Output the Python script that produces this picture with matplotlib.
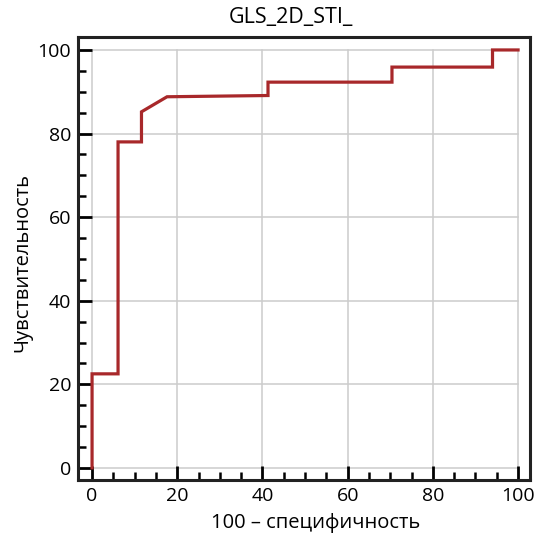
import matplotlib.pyplot as plt
import numpy as np
from matplotlib.ticker import MultipleLocator

# ROC curve points (100 - specificity, sensitivity)
fpr = [0, 0, 6.1, 6.1, 11.6, 11.6, 17.6, 41.3, 41.3, 70.4, 70.4, 94.0, 94.0, 100]
tpr = [0, 22.5, 22.5, 78.0, 78.0, 85.2, 88.8, 89.1, 92.3, 92.3, 95.9, 95.9, 100, 100]
ticks = [0, 20, 40, 60, 80, 100]

plt.rcParams['font.family'] = ['Open Sans', 'DejaVu Sans']

fig = plt.figure(figsize=(5.36, 5.38), dpi=100)
ax = fig.add_axes([78 / 536, 58 / 538, 452 / 536, 443 / 538])

# grid only over the 0..100 data range
for t in ticks:
    ax.plot([t, t], [0, 100], color='#cccccc', linewidth=1.1, zorder=1)
    ax.plot([0, 100], [t, t], color='#cccccc', linewidth=1.1, zorder=1)

ax.plot(fpr, tpr, color='#a8282a', linewidth=2.3, zorder=3, solid_joinstyle='miter')

ax.set_xlim(-3.3, 102.8)
ax.set_ylim(-2.9, 103.1)
ax.set_xticks(ticks)
ax.set_yticks(ticks)
ax.xaxis.set_minor_locator(MultipleLocator(5))
ax.yaxis.set_minor_locator(MultipleLocator(5))
ax.tick_params(which='major', direction='in', length=10, width=2, labelsize=14, pad=5)
ax.tick_params(which='minor', direction='in', length=6, width=1.8)
ax.tick_params(top=False, right=False, which='both')
for s in ax.spines.values():
    s.set_linewidth(2.2)
    s.set_color('#222222')

ax.set_title('GLS_2D_STI_', fontsize=15.5, x=0.471, pad=10)
ax.set_xlabel('100 – специфичность', fontsize=14.5)
ax.set_ylabel('Чувствительность', fontsize=14.5)
ax.xaxis.set_label_coords(0.525, -0.075)
ax.yaxis.set_label_coords(-0.10, 0.49)

fig.savefig('out.png', dpi=100)
